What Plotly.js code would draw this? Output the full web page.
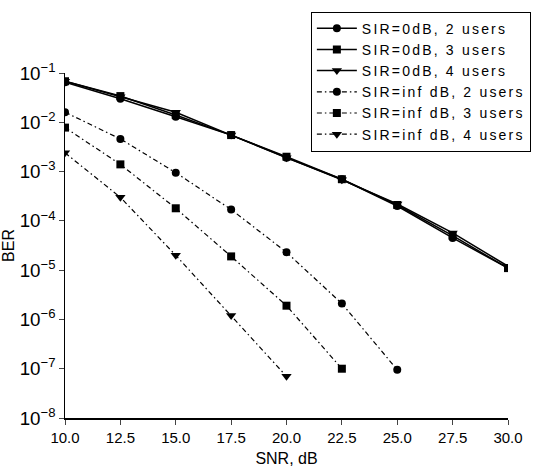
<!DOCTYPE html>
<html><head><meta charset="utf-8">
<script src="https://cdn.plot.ly/plotly-3.0.1.min.js"></script>
<style>html,body{margin:0;padding:0;background:#fff}#chart{width:547px;height:470px}
.legendtext{letter-spacing:2.2px}</style>
</head><body><div id="chart"></div>
<script>
const snr = [10.0, 12.5, 15.0, 17.5, 20.0, 22.5, 25.0, 27.5, 30.0];
const sir0_2 = [0.065, 0.030, 0.013, 0.0055, 0.0019, 0.00070, 0.00020, 0.000045, 0.000011];
const sir0_3 = [0.068, 0.034, 0.014, 0.0055, 0.0020, 0.00070, 0.00021, 0.000050, 0.000011];
const sir0_4 = [0.068, 0.033, 0.016, 0.0055, 0.0019, 0.00068, 0.00022, 0.000057, 0.000012];
const snrInf2 = [10.0, 12.5, 15.0, 17.5, 20.0, 22.5, 25.0];
const sirInf_2 = [0.016, 0.0046, 0.00095, 0.00017, 0.000023, 0.0000021, 0.000000095];
const snrInf3 = [10.0, 12.5, 15.0, 17.5, 20.0, 22.5];
const sirInf_3 = [0.0078, 0.0014, 0.00018, 0.000019, 0.0000019, 0.00000010];
const snrInf4 = [10.0, 12.5, 15.0, 17.5, 20.0];
const sirInf_4 = [0.0024, 0.00030, 0.000020, 0.0000012, 0.000000070];
const names = ["SIR=0dB, 2 users","SIR=0dB, 3 users","SIR=0dB, 4 users","SIR=inf dB, 2 users","SIR=inf dB, 3 users","SIR=inf dB, 4 users"];
const xTickVals = [10.0, 12.5, 15.0, 17.5, 20.0, 22.5, 25.0, 27.5, 30.0];

function tr(x, y, name, sym, dash, w){
  return {x:x, y:y, name:name, type:'scatter', mode:'lines+markers',
    line:{color:'#000', width:w, dash:dash},
    marker:{symbol:sym, size:sym==='triangle-down'?9:8, color:'#000'}};
}
const dd = '5px,3px,1.5px,3px';
const data = [
  tr(snr, sir0_2, names[0], 'circle', 'solid', 1.5),
  tr(snr, sir0_3, names[1], 'square', 'solid', 1.5),
  tr(snr, sir0_4, names[2], 'triangle-down', 'solid', 1.5),
  tr(snrInf2, sirInf_2, names[3], 'circle', dd, 1.2),
  tr(snrInf3, sirInf_3, names[4], 'square', dd, 1.2),
  tr(snrInf4, sirInf_4, names[5], 'triangle-down', dd, 1.2)
];
const layout = {
  width:547, height:470,
  margin:{l:65, r:39, t:68, b:52},
  paper_bgcolor:'#fff', plot_bgcolor:'#fff',
  font:{family:'Liberation Sans, Arial, sans-serif', size:15, color:'#000'},
  showlegend:true,
  legend:{x:0.555, y:1.178, xanchor:'left', yanchor:'top', bordercolor:'#000', borderwidth:1,
    bgcolor:'#fff', font:{size:14}, tracegroupgap:0, itemwidth:40},
  xaxis:{range:[10,30], tickvals:xTickVals, ticktext:xTickVals.map(v=>v.toFixed(1)),
    ticks:'outside', ticklen:5, showgrid:false, zeroline:false, showline:true, linecolor:'#000', linewidth:1.5,
    title:{text:'SNR, dB', font:{size:16}, standoff:8}, tickfont:{size:15}},
  yaxis:{type:'log', range:[-8,-1], dtick:1, exponentformat:'power', showexponent:'all',
    ticks:'outside', ticklen:5, showgrid:false, zeroline:false, showline:true, linecolor:'#000', linewidth:1.5,
    title:{text:'BER', font:{size:16}, standoff:3}, tickfont:{size:15}}
};
Plotly.newPlot('chart', data, layout, {displayModeBar:false, staticPlot:true});
</script></body></html>
